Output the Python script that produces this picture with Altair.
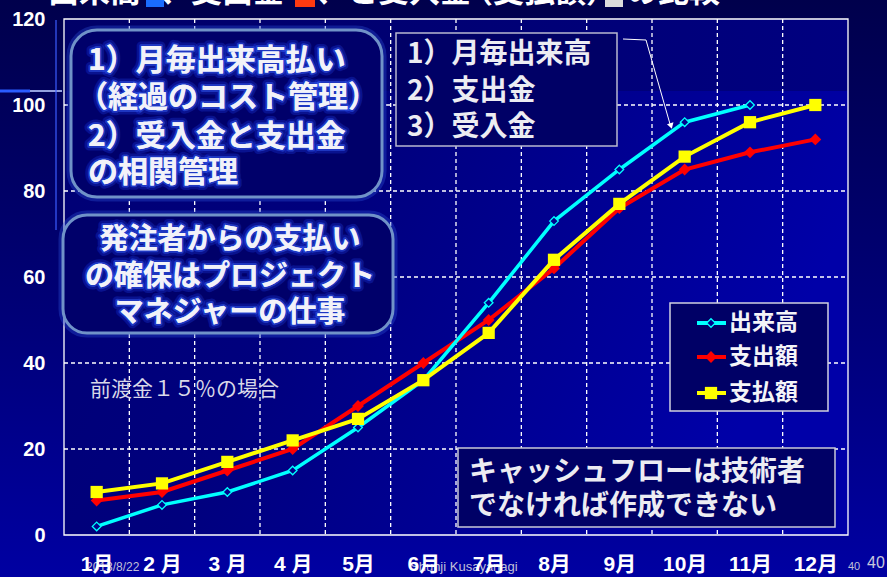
import json
import altair as alt
import pandas as pd

# ---------------- data ----------------
months = list(range(1, 13))
month_labels = ["1月", "2 月", "3 月", "4 月", "5月", "6月", "7月", "8月", "9月", "10月", "11月", "12月"]
dekidaka = [2, 7, 10, 15, 25, 36, 54, 73, 85, 96, 100, None]      # 出来高
shishutsu = [8, 10, 15, 20, 30, 40, 50, 62, 76, 85, 89, 92]        # 支出額
shiharai = [10, 12, 17, 22, 27, 36, 47, 64, 77, 88, 96, 100]       # 支払額
series_names = ["出来高", "支出額", "支払額"]
series_colors = ["#00ffff", "#ff0000", "#ffff00"]
y_ticks = [0, 20, 40, 60, 80, 100, 120]
grid_y = [20, 40, 60, 80, 100]
grid_x = [m + 0.5 for m in months[:-1]]

title_parts = ["出来高", "、支出金", "、と受入金", "（支払額）", "の比較"]
title_square_colors = ["#1a6cff", "#ff3a10", "#dcdcdc"]
box1_lines = ["1）月毎出来高払い", "（経過のコスト管理）", "2）受入金と支出金", "の相関管理"]
box2_lines = ["発注者からの支払い", "の確保はプロジェクト", "マネジャーの仕事"]
box3_lines = ["1）月毎出来高", "2）支出金", "3）受入金"]
box4_lines = ["キャッシュフローは技術者", "でなければ作成できない"]
note_text = "前渡金１５％の場合"
footer_date = "2013/8/22"
footer_author = "Shunji  Kusayanagi"
footer_page = "40"

# ---------------- layout ----------------
L, T, W, H = 64, 19, 784, 516
CJK = "Noto Sans CJK JP"
LAT = "Liberation Sans, Noto Sans CJK JP"
one = pd.DataFrame({"k": [0]})


def px(x):
    return x - L


def py(y):
    return y - T


def rect(x1, y1, x2, y2, **mk):
    return alt.Chart(one).mark_rect(**mk).encode(
        x=alt.value(px(x1)), x2=alt.value(px(x2)),
        y=alt.value(py(y1)), y2=alt.value(py(y2)))


def seg(x1, y1, x2, y2, **mk):
    return alt.Chart(one).mark_rule(**mk).encode(
        x=alt.value(px(x1)), x2=alt.value(px(x2)),
        y=alt.value(py(y1)), y2=alt.value(py(y2)))


def txt(s, x, y, **mk):
    opts = dict(baseline="middle", align="left")
    opts.update(mk)
    return alt.Chart(one).mark_text(text=s, **opts).encode(
        x=alt.value(px(x)), y=alt.value(py(y)))


def glow_txt(s, x, y, size, align="left"):
    return [
        txt(s, x, y, font=CJK, fontSize=size, fontWeight="bold", align=align,
            color="#ffffff", stroke="#2648ff", strokeWidth=9, strokeOpacity=0.25,
            strokeJoin="round"),
        txt(s, x, y, font=CJK, fontSize=size, fontWeight="bold", align=align,
            color="#ffffff", stroke="#3a66ff", strokeWidth=4, strokeOpacity=0.45,
            strokeJoin="round"),
        txt(s, x, y, font=CJK, fontSize=size, fontWeight="bold", align=align,
            color="#f2f2f8"),
    ]


def grad(stops, x1=0, y1=0, x2=0, y2=1):
    return {"gradient": "linear", "x1": x1, "y1": y1, "x2": x2, "y2": y2,
            "stops": [{"offset": o, "color": c} for o, c in stops]}


xscale = alt.Scale(domain=[0.5, 12.5], nice=False, zero=False)
yscale = alt.Scale(domain=[0, 120], nice=False, zero=False)
xaxis = alt.Axis(values=months, labelExpr=json.dumps(month_labels) + "[datum.value - 1]",
                 grid=False, domain=False, ticks=False, title=None, labelColor="#ffffff",
                 labelFont=LAT, labelFontSize=21, labelFontWeight="bold", labelPadding=18,
                 labelFlush=False, labelOverlap=False, zindex=1)
yaxis = alt.Axis(values=y_ticks, grid=False, domain=False, ticks=False, title=None,
                 labelColor="#ffffff", labelFont=LAT, labelFontSize=20, labelFontWeight="bold",
                 labelPadding=19, labelOverlap=False, zindex=1)
X = alt.X("month:Q", scale=xscale, axis=xaxis)

layers = []

# ---------------- backgrounds ----------------
layers.append(rect(0, 0, 887, 577, fill=grad([(0, "#00004c"), (0.55, "#000078"), (1, "#0000a2")])))
layers.append(rect(L, T, L + W, 91, fill=grad([(0, "#000068"), (1, "#000080")], x2=1, y2=0)))
layers.append(rect(L, 91, L + W, T + H, fill=grad([(0, "#000074"), (0.4, "#00007e"), (1, "#0000a8")], x2=1, y2=0.3)))
# slide decoration lines
layers.append(seg(0, 91, 30, 91, color="#2a5cff", strokeWidth=3))
layers.append(seg(30, 91, 62, 91, color="#b8c8ff", strokeWidth=2, opacity=0.8))
layers.append(seg(56, 20, 56, 230, color="#3a5cff", strokeWidth=2, opacity=0.6))

# ---------------- grid & frame ----------------
gy = pd.DataFrame({"v": grid_y})
gx = pd.DataFrame({"month": grid_x})
layers.append(alt.Chart(gy).mark_rule(color="#ffffff", strokeWidth=1.3, strokeDash=[4, 3]).encode(
    y=alt.Y("v:Q", scale=yscale, axis=yaxis), x=alt.value(0), x2=alt.value(W)))
layers.append(alt.Chart(gx).mark_rule(color="#ffffff", strokeWidth=1.3, strokeDash=[4, 3]).encode(
    x=X, y=alt.value(0), y2=alt.value(H)))
layers.append(rect(L, T, L + W, T + H, fill="transparent", stroke="#ffffff", strokeWidth=1.3))

# ---------------- data ----------------
rows = []
for name, vals in zip(series_names, [dekidaka, shishutsu, shiharai]):
    for m, v in zip(months, vals):
        if v is not None:
            rows.append({"month": m, "value": v, "series": name})
df = pd.DataFrame(rows)


def series_chart(name):
    return alt.Chart(df).transform_filter(alt.datum.series == name).encode(
        x=X, y=alt.Y("value:Q", scale=yscale, axis=yaxis))


c_dek, c_shi, c_pay = series_colors
layers.append(series_chart("支出額").mark_line(color=c_shi, strokeWidth=4))
layers.append(series_chart("支出額").mark_point(shape="diamond", size=140, filled=True,
                                               color=c_shi, opacity=1))
layers.append(series_chart("出来高").mark_line(color=c_dek, strokeWidth=3.5))
layers.append(series_chart("出来高").mark_point(shape="diamond", size=75, filled=True,
                                               fill="#00008c", stroke=c_dek, strokeWidth=1.3,
                                               opacity=1))
layers.append(series_chart("支払額").mark_line(color=c_pay, strokeWidth=4))
layers.append(series_chart("支払額").mark_square(size=150, color=c_pay, opacity=1))

# ---------------- annotation boxes ----------------
# box 1 (rounded, glowing)
layers.append(rect(71, 30, 382, 197, fill="transparent", stroke="#2c50d8", strokeWidth=9,
                   strokeOpacity=0.35, cornerRadius=26))
layers.append(rect(71, 30, 382, 197, fill="#00006a", stroke="#7092c8", strokeWidth=3,
                   cornerRadius=26))
for s, xx, yy in zip(box1_lines, [88, 78, 88, 88], [61, 98, 137, 173]):
    layers += glow_txt(s, xx, yy, 30)

# box 2 (rounded, glowing)
layers.append(rect(63, 215, 393, 333, fill="transparent", stroke="#2c50d8", strokeWidth=9,
                   strokeOpacity=0.35, cornerRadius=24))
layers.append(rect(63, 215, 393, 333, fill="#00006a", stroke="#7092c8", strokeWidth=3,
                   cornerRadius=24))
for s, yy in zip(box2_lines, [240, 277, 313]):
    layers += glow_txt(s, 230, yy, 29, align="center")

# box 3 (plain)
layers.append(rect(396, 33, 617, 146, fill="#000066", stroke="#b8b8d0", strokeWidth=1.5))
for s, yy in zip(box3_lines, [55, 92, 128]):
    layers.append(txt(s, 407, yy, font=CJK, fontSize=28, fontWeight="bold", color="#ececf2"))

# arrow
layers.append(seg(623, 39, 646, 40, color="#ffffff", strokeWidth=1))
layers.append(seg(646, 40, 670, 124, color="#ffffff", strokeWidth=1))
layers.append(alt.Chart(one).mark_point(shape="triangle-down", size=45, filled=True,
                                        color="#ffffff", opacity=1, angle=344).encode(
    x=alt.value(px(671)), y=alt.value(py(126))))

# box 4 (plain)
layers.append(rect(458, 448, 835, 527, fill="#000066", stroke="#c8c8d8", strokeWidth=1.5))
for s, yy in zip(box4_lines, [473, 507]):
    layers.append(txt(s, 469, yy, font=CJK, fontSize=28, fontWeight="bold", color="#ececf2"))

# note
layers.append(txt(note_text, 90, 390, font=CJK, fontSize=21, color="#d8d8e8"))

# ---------------- legend ----------------
layers.append(rect(670, 303, 828, 411, fill="#000066", stroke="#d0d0e0", strokeWidth=1.5))
leg_y = [323, 357, 393]
for name, col, yy in zip(series_names, series_colors, leg_y):
    layers.append(seg(697, yy, 726, yy, color=col, strokeWidth=4))
    layers.append(txt(name, 729, yy, font=CJK, fontSize=23, fontWeight="bold", color="#f4f4f8"))
layers.append(alt.Chart(one).mark_point(shape="diamond", size=75, filled=True, fill="#00008c",
                                        stroke=c_dek, strokeWidth=1.3, opacity=1).encode(
    x=alt.value(px(711)), y=alt.value(py(leg_y[0]))))
layers.append(alt.Chart(one).mark_point(shape="diamond", size=140, filled=True, color=c_shi,
                                        opacity=1).encode(
    x=alt.value(px(711)), y=alt.value(py(leg_y[1]))))
layers.append(alt.Chart(one).mark_square(size=150, color=c_pay, opacity=1).encode(
    x=alt.value(px(711)), y=alt.value(py(leg_y[2]))))

# ---------------- title (clipped at top) ----------------
for s, xx in zip(title_parts, [48, 160, 316, 462, 627]):
    layers.append(txt(s, xx, 2, font=CJK, fontSize=31, fontWeight="bold",
                      color="#ffffff", baseline="alphabetic"))
for col, (a, b) in zip(title_square_colors, [(146, 164), (295, 315), (605, 623)]):
    layers.append(rect(a, -12, b, 7, fill=col))

# ---------------- footers ----------------
layers.append(txt(footer_date, 86, 567, font="Liberation Sans", fontSize=12, color="#c0c0d8"))
layers.append(txt(footer_author, 410, 567, font="Liberation Sans", fontSize=13, color="#c0c0d8"))
layers.append(txt(footer_page, 848, 567, font="Liberation Sans", fontSize=11, color="#c0c0d8"))
layers.append(txt(footer_page, 867, 563, font="Liberation Sans", fontSize=16, color="#c8c8dc"))

chart = alt.layer(*layers).properties(
    width=W, height=H,
    autosize=alt.AutoSizeParams(type="none"),
    padding={"left": L, "top": T, "right": 887 - L - W, "bottom": 577 - T - H},
).configure(background="#000066").configure_view(stroke=None)

chart.save("out.html", embed_options={"renderer": "svg", "actions": False})
